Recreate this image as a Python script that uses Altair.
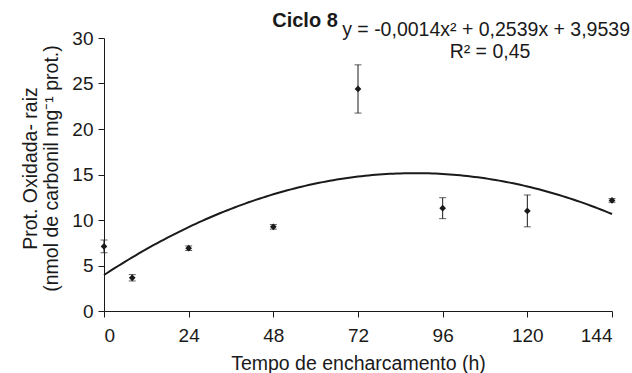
import altair as alt
import pandas as pd

# Data
tempo = [0, 8, 24, 48, 72, 96, 120, 144]
media = [7.1, 3.65, 6.9, 9.25, 24.4, 11.3, 11.0, 12.15]
erro = [0.7, 0.35, 0.25, 0.25, 2.65, 1.15, 1.75, 0.2]

# Fitted curve as drawn (label shows rounded coefficients): y = a x^2 + b x + c
coef_a, coef_b, coef_c = -0.00144, 0.2539, 3.9539

x_ticks = [0, 24, 48, 72, 96, 120, 144]
y_ticks = [0, 5, 10, 15, 20, 25, 30]

df = pd.DataFrame({"tempo": tempo, "media": media, "erro": erro})
df["lo"] = df["media"] - df["erro"]
df["hi"] = df["media"] + df["erro"]

FONT = "Liberation Sans"
INK = "#1a1a1a"

xs = alt.Scale(domain=[0, 144], nice=False, zero=False)
ys = alt.Scale(domain=[0, 30], nice=False)

x_axis = alt.Axis(values=x_ticks, grid=False, title="Tempo de encharcamento (h)",
                  labelFontSize=19, titleFontSize=19.5, labelFont=FONT, titleFont=FONT,
                  titleFontWeight="normal", labelColor=INK, titleColor=INK,
                  domainColor=INK, tickColor=INK, tickSize=6, labelPadding=9, titlePadding=9)
y_axis = alt.Axis(values=y_ticks, grid=False,
                  title=["Prot. Oxidada- raiz", "(nmol de carbonil mg\u207b\u00b9 prot.)"],
                  labelFontSize=19, titleFontSize=19.5, labelFont=FONT, titleFont=FONT,
                  titleFontWeight="normal", labelColor=INK, titleColor=INK,
                  domainColor=INK, tickColor=INK, tickSize=6, labelPadding=5,
                  titleLineHeight=21, titlePadding=10, titleY=130)

base = alt.Chart(df)

bars = base.mark_errorbar(ticks=alt.TickConfig(size=7, thickness=1, color=INK), color=INK,
                          thickness=1).encode(
    x=alt.X("tempo:Q", scale=xs, axis=x_axis),
    y=alt.Y("lo:Q", scale=ys, axis=y_axis),
    y2="hi:Q",
)

pts = base.mark_point(shape="diamond", filled=True, color=INK, size=45, opacity=1).encode(
    x=alt.X("tempo:Q", scale=xs),
    y=alt.Y("media:Q", scale=ys),
)

curve = alt.Chart(alt.sequence(0, 144.5, 1, as_="t")).transform_calculate(
    fit=f"{coef_a}*datum.t*datum.t + {coef_b}*datum.t + {coef_c}"
).mark_line(color=INK, strokeWidth=2).encode(
    x=alt.X("t:Q", scale=xs),
    y=alt.Y("fit:Q", scale=ys),
)

title_txt = alt.Chart(pd.DataFrame({"s": ["Ciclo 8"]})).mark_text(
    font=FONT, fontSize=20, fontWeight="bold", color=INK, align="center", baseline="alphabetic"
).encode(text="s:N", x=alt.value(201), y=alt.value(-11))

eq_txt = alt.Chart(pd.DataFrame({"s": ["y = -0,0014x\u00b2 + 0,2539x + 3,9539"]})).mark_text(
    font=FONT, fontSize=19.5, color=INK, align="right", baseline="alphabetic"
).encode(text="s:N", x=alt.value(526), y=alt.value(-2))

r2_txt = alt.Chart(pd.DataFrame({"s": ["R\u00b2 = 0,45"]})).mark_text(
    font=FONT, fontSize=19.5, color=INK, align="center", baseline="alphabetic"
).encode(text="s:N", x=alt.value(386), y=alt.value(20))

chart = alt.layer(curve, bars, pts, title_txt, eq_txt, r2_txt).properties(
    width=508, height=273,
    autosize=alt.AutoSizeParams(type="none"),
    padding={"left": 104, "top": 38, "right": 20, "bottom": 62},
    background="white",
).configure_view(stroke=None)

chart.save("out.html", embed_options={"renderer": "svg", "actions": False})
